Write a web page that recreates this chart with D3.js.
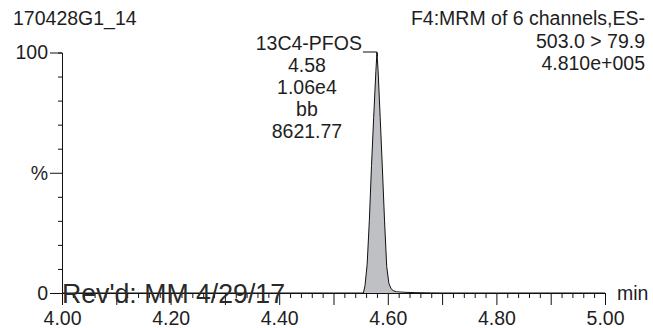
<!DOCTYPE html>
<html>
<head>
<meta charset="utf-8">
<script src="https://cdn.jsdelivr.net/npm/d3@7"></script>
<style>
  html, body { margin: 0; padding: 0; background: #fff; }
  svg text { font-family: "Liberation Sans", Arial, Helvetica, sans-serif; fill: #1e1e1e; }
</style>
</head>
<body>
<svg id="chart" width="653" height="328"></svg>
<script>
// ---- data ----
const retentionTime = [4.00, 4.10, 4.20, 4.30, 4.40, 4.50, 4.550, 4.555, 4.558, 4.562, 4.566, 4.570, 4.574, 4.578, 4.580,
                       4.582, 4.586, 4.590, 4.594, 4.598, 4.602, 4.606, 4.610, 4.616, 4.630, 4.650, 4.680, 4.700,
                       4.80, 4.90, 5.00];
const intensity     = [0, 0, 0, 0, 0, 0, 0, 0, 3, 12, 30, 53, 73, 92, 100,
                       93, 73, 52, 30, 11, 4, 1.8, 1, 0.5, 0.3, 0.15, 0.05, 0,
                       0, 0, 0];
const peakStart = 4.555, peakEnd = 4.616;
const peakLabel = ["13C4-PFOS", "4.58", "1.06e4", "bb", "8621.77"];
const peakApex = 4.58;
const headerLeft = "170428G1_14";
const headerRight = ["F4:MRM of 6 channels,ES-", "503.0 > 79.9", "4.810e+005"];
const yTickLabels = {0: "0", 50: "%", 100: "100"};
const xLabelTicks = [4.00, 4.20, 4.40, 4.60, 4.80, 5.00];
const xUnit = "min";
const stamp = "Rev'd: MM 4/29/17";

// ---- layout ----
const svg = d3.select("#chart");
const x = d3.scaleLinear().domain([4, 5]).range([62, 605]);
const y = d3.scaleLinear().domain([0, 100]).range([293, 52.5]);
const FS = 19.5;

// peak fill
const pts = retentionTime.map((t, i) => ({t, v: intensity[i]}));
const fillPts = pts.filter(d => d.t >= peakStart && d.t <= peakEnd);
svg.append("path")
  .datum(fillPts)
  .attr("d", d3.area().x(d => x(d.t)).y0(y(0)).y1(d => y(d.v)))
  .attr("fill", "#bfc0c4");

// x axis
const xTicks = d3.range(0, 51).map(i => +(4 + i * 0.02).toFixed(2));
const xAxisG = svg.append("g").attr("transform", `translate(0,${y(0)})`)
  .call(d3.axisBottom(x).tickValues(xTicks).tickSizeOuter(0).tickSize(5).tickPadding(0)
    .tickFormat(d => xLabelTicks.some(v => Math.abs(v - d) < 1e-9) ? d.toFixed(2) : ""));
xAxisG.selectAll(".tick").each(function(d, i) {
  const g = d3.select(this);
  g.select("line").attr("y2", i % 5 === 0 ? 12 : 5);
  g.select("text").attr("y", 18.5).attr("dy", "0.71em");
});
xAxisG.select(".domain").attr("stroke", "#111");
xAxisG.selectAll("line").attr("stroke", "#111");
xAxisG.selectAll("text").attr("font-size", FS).attr("fill", "#1e1e1e").attr("font-family", null);

// y axis
const yTicks = d3.range(0, 101, 10);
const yAxisG = svg.append("g").attr("transform", `translate(${x(4)},0)`)
  .call(d3.axisLeft(y).tickValues(yTicks).tickSizeOuter(0).tickSize(4).tickPadding(2)
    .tickFormat(d => yTickLabels[d] !== undefined ? yTickLabels[d] : ""));
yAxisG.selectAll(".tick").each(function(d) {
  const g = d3.select(this);
  if (d % 50 === 0) g.select("line").attr("x2", -12);
  g.select("text").attr("x", -14);
});
yAxisG.select(".domain").attr("stroke", "#111");
yAxisG.selectAll("line").attr("stroke", "#111");
yAxisG.selectAll("text").attr("font-size", FS).attr("fill", "#1e1e1e").attr("font-family", null);

// trace
svg.append("path")
  .datum(pts)
  .attr("d", d3.line().x(d => x(d.t)).y(d => y(d.v)))
  .attr("fill", "none").attr("stroke", "#111").attr("stroke-width", 1).attr("stroke-linejoin", "round");

// peak annotation
const ax = x(peakApex), ay = y(100);
const cx = ax - 70;
peakLabel.forEach((s, i) => {
  svg.append("text")
    .attr("x", i === 0 ? ax - 15 : cx)
    .attr("y", 50 + i * 22.1)
    .attr("text-anchor", i === 0 ? "end" : "middle")
    .attr("font-size", FS)
    .text(s);
});
svg.append("path")
  .attr("d", `M${ax - 14},${ay - 0.5}H${ax}L${ax + 0.5},${ay + 4}`)
  .attr("fill", "none").attr("stroke", "#111").attr("stroke-width", 1);

// headers
svg.append("text").attr("x", 13).attr("y", 25).attr("font-size", FS).text(headerLeft);
headerRight.forEach((s, i) => {
  svg.append("text").attr("x", 645).attr("y", 25 + i * 22.5)
    .attr("text-anchor", "end").attr("font-size", FS).text(s);
});

// unit
svg.append("text").attr("x", 617).attr("y", 300).attr("font-size", FS).text(xUnit);

// stamp
svg.append("text").attr("x", 62).attr("y", 303).attr("font-size", 27)
  .attr("textLength", 223).attr("lengthAdjust", "spacingAndGlyphs")
  .style("fill", "#2a2a2a").text(stamp);
</script>
</body>
</html>
